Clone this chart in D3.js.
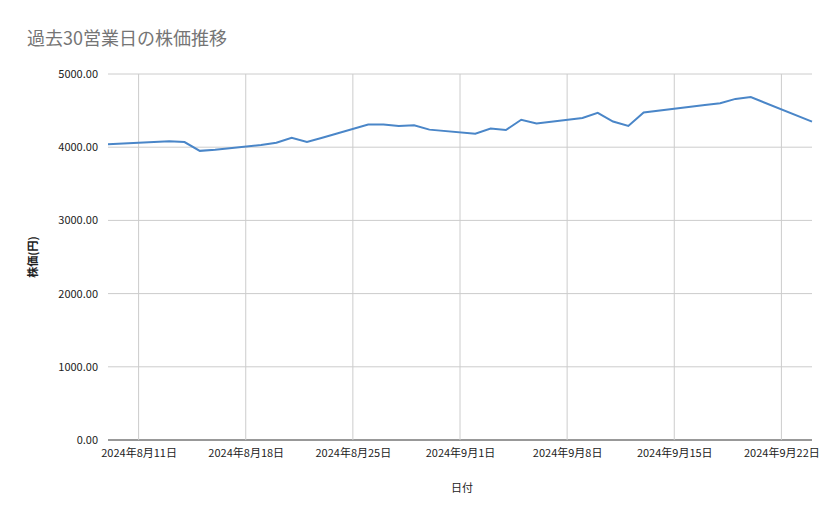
<!DOCTYPE html>
<html>
<head>
<meta charset="utf-8">
<script src="https://cdn.jsdelivr.net/npm/d3@7"></script>
<style>
  body { margin: 0; background: #fff; }
  text { font-family: "Noto Sans CJK JP", Roboto, sans-serif; }
</style>
</head>
<body>
<svg id="chart" width="839" height="519"></svg>
<script>
// business days and closing prices
const dates = ['2024-08-09','2024-08-13','2024-08-14','2024-08-15','2024-08-16',
  '2024-08-19','2024-08-20','2024-08-21','2024-08-22','2024-08-23',
  '2024-08-26','2024-08-27','2024-08-28','2024-08-29','2024-08-30',
  '2024-09-02','2024-09-03','2024-09-04','2024-09-05','2024-09-06',
  '2024-09-09','2024-09-10','2024-09-11','2024-09-12','2024-09-13',
  '2024-09-17','2024-09-18','2024-09-19','2024-09-20','2024-09-24']
const prices = [4040,4080,4070,3950,3965, 4030,4060,4130,4070,4130,
  4310,4310,4290,4300,4240, 4185,4255,4235,4375,4325,
  4400,4470,4350,4290,4475, 4575,4600,4660,4685,4350]
const yTicks = [0,1000,2000,3000,4000,5000]
const xTicks = ['2024-08-11','2024-08-18','2024-08-25','2024-09-01','2024-09-08','2024-09-15','2024-09-22']

const parse = d3.timeParse('%Y-%m-%d')
const data = dates.map((d,i) => ({date: parse(d), price: prices[i]}))

const margin = {top: 74, right: 27, bottom: 79, left: 108}
const svg = d3.select('#chart')
const W = 839, H = 519

const x = d3.scaleTime()
	.domain([parse('2024-08-09'), parse('2024-09-24')])
	.range([margin.left, W - margin.right])
const y = d3.scaleLinear()
	.domain([0, 5000])
	.range([H - margin.bottom, margin.top])

// grid
svg.append('g')
	.selectAll('line.h')
	.data(yTicks)
	.join('line')
		.attr('x1', margin.left).attr('x2', W - margin.right)
		.attr('y1', d => y(d)).attr('y2', d => y(d))
		.attr('stroke', d => d === 0 ? '#333' : '#ccc')
svg.append('g')
	.selectAll('line.v')
	.data(xTicks.map(parse))
	.join('line')
		.attr('x1', d => x(d)).attr('x2', d => x(d))
		.attr('y1', margin.top).attr('y2', H - margin.bottom)
		.attr('stroke', '#ccc')

// y axis labels
svg.append('g')
	.attr('transform', 'translate(' + (margin.left - 7) + ',0)')
	.call(d3.axisLeft(y).tickValues(yTicks).tickFormat(d3.format('.2f')).tickSize(0))
	.call(g => g.select('.domain').remove())
	.call(g => g.selectAll('text').attr('font-size', 11).attr('fill', '#222'))

// x axis labels
const fmt = d => (d.getFullYear()) + '年' + (d.getMonth()+1) + '月' + d.getDate() + '日'
svg.append('g')
	.attr('transform', 'translate(0,' + (H - margin.bottom + 6) + ')')
	.call(d3.axisBottom(x).tickValues(xTicks.map(parse)).tickFormat(fmt).tickSize(0))
	.call(g => g.select('.domain').remove())
	.call(g => g.selectAll('text').attr('font-size', 11).attr('fill', '#222'))

// line
svg.append('path')
	.datum(data)
	.attr('fill', 'none')
	.attr('stroke', '#4a86c8')
	.attr('stroke-width', 2)
	.attr('d', d3.line().x(d => x(d.date)).y(d => y(d.price)))

// titles
svg.append('text').attr('x', 27).attr('y', 45)
	.attr('font-size', 18).attr('fill', '#757575').text('過去30営業日の株価推移')
svg.append('text').attr('x', 462).attr('y', 492).attr('text-anchor', 'middle')
	.attr('font-size', 11).attr('fill', '#222').text('日付')
svg.append('text').attr('transform', 'translate(37,257) rotate(-90)').attr('text-anchor', 'middle')
	.attr('font-size', 11).attr('font-weight', 'bold').attr('fill', '#222').text('株価(円)')
</script>
</body>
</html>
